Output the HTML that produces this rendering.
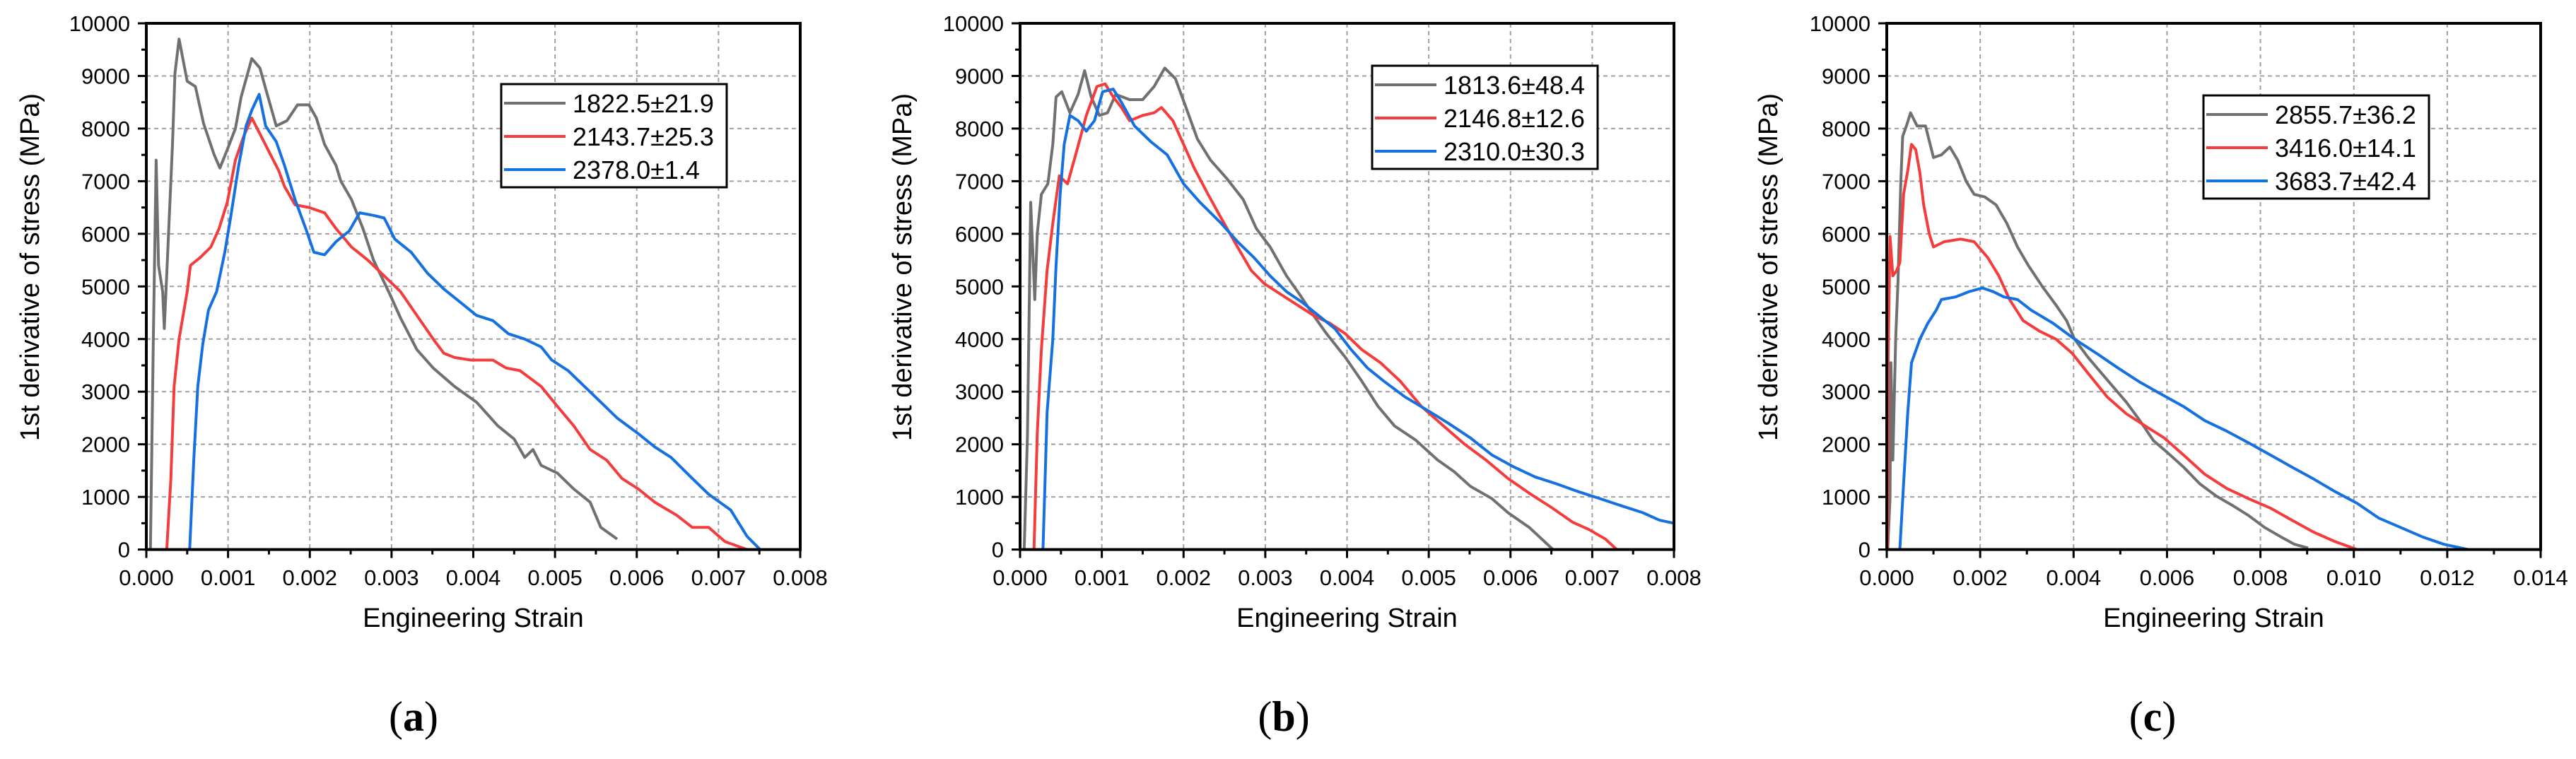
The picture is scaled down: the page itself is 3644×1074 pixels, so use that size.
<!DOCTYPE html>
<html><head><meta charset="utf-8">
<style>
html,body{margin:0;padding:0;background:#fff;}
svg{display:block;font-family:"Liberation Sans",Arial,sans-serif;}
</style></head>
<body>
<svg id="fig" width="3644" height="1074" viewBox="0 0 3644 1074" xmlns="http://www.w3.org/2000/svg"></svg>
<script>
// ---- data (strain in units of 1e-3, derivative in MPa) ----
const yTicks = [0,1000,2000,3000,4000,5000,6000,7000,8000,9000,10000];
const xTicksAB = ["0.000","0.001","0.002","0.003","0.004","0.005","0.006","0.007","0.008"];
const xTicksC = ["0.000","0.002","0.004","0.006","0.008","0.010","0.012","0.014"];
const legendA = ["1822.5±21.9","2143.7±25.3","2378.0±1.4"];
const legendB = ["1813.6±48.4","2146.8±12.6","2310.0±30.3"];
const legendC = ["2855.7±36.2","3416.0±14.1","3683.7±42.4"];

const aGrayX = [0.05,0.086,0.12,0.15,0.2,0.22,0.26,0.32,0.35,0.4,0.5,0.6,0.7,0.83,0.9,0.99,1.09,1.16,1.29,1.39,1.47,1.59,1.72,1.85,1.99,2.08,2.18,2.32,2.38,2.51,2.65,2.78,2.98,3.11,3.31,3.51,3.77,4.04,4.3,4.5,4.63,4.73,4.83,5.03,5.23,5.43,5.56,5.76];
const aGrayY = [0,4000,7400,5400,4900,4200,5600,7700,9050,9700,8900,8800,8100,7500,7250,7600,8000,8600,9330,9150,8700,8050,8150,8450,8450,8200,7700,7300,7000,6650,6100,5500,4850,4400,3800,3450,3100,2800,2350,2100,1750,1900,1600,1450,1150,900,420,200];
const aRedX = [0.25,0.3,0.34,0.4,0.5,0.54,0.66,0.79,0.89,0.99,1.09,1.19,1.29,1.39,1.52,1.62,1.69,1.82,1.99,2.18,2.32,2.51,2.71,2.91,3.11,3.31,3.51,3.64,3.77,3.97,4.24,4.4,4.57,4.83,5.03,5.23,5.43,5.63,5.82,6.02,6.22,6.49,6.68,6.88,7.08,7.35];
const aRedY = [0,1350,3100,4000,4900,5400,5550,5750,6100,6600,7400,7850,8200,7900,7500,7200,6900,6550,6500,6400,6100,5750,5500,5200,4900,4450,4000,3730,3650,3600,3600,3450,3400,3100,2720,2350,1900,1700,1350,1150,900,650,420,420,150,0];
const aBlueX = [0.53,0.58,0.63,0.69,0.76,0.86,0.96,1.03,1.13,1.22,1.29,1.38,1.46,1.59,1.69,1.82,1.95,2.05,2.18,2.32,2.48,2.61,2.78,2.91,3.04,3.24,3.44,3.64,3.84,4.04,4.24,4.43,4.63,4.83,4.96,5.16,5.36,5.56,5.76,6.02,6.22,6.42,6.68,6.88,7.15,7.35,7.51];
const aBlueY = [0,1700,3100,3900,4550,4900,5650,6300,7300,8050,8350,8650,8050,7750,7300,6650,6100,5650,5600,5850,6050,6400,6350,6300,5900,5650,5250,4950,4700,4450,4350,4100,4000,3850,3600,3400,3100,2800,2500,2200,1950,1750,1350,1050,750,250,0];

const bGrayX = [0.05,0.09,0.13,0.18,0.21,0.26,0.34,0.4,0.44,0.51,0.61,0.71,0.79,0.87,0.97,1.07,1.17,1.34,1.5,1.64,1.77,1.9,2.03,2.17,2.33,2.53,2.73,2.89,3.06,3.26,3.42,3.59,3.75,3.98,4.18,4.38,4.58,4.84,5.11,5.31,5.51,5.77,5.97,6.23,6.52];
const bGrayY = [0,2150,6600,4750,6000,6750,6950,7700,8600,8700,8300,8650,9100,8600,8250,8300,8650,8550,8550,8800,9150,8950,8400,7800,7400,7050,6650,6100,5750,5200,4850,4450,4100,3650,3200,2720,2350,2080,1700,1480,1200,970,700,420,0];
const bRedX = [0.17,0.21,0.26,0.33,0.4,0.48,0.58,0.68,0.81,0.94,1.04,1.14,1.24,1.34,1.5,1.64,1.73,1.87,2.0,2.13,2.3,2.46,2.66,2.83,2.99,3.19,3.39,3.59,3.79,3.98,4.18,4.41,4.65,4.91,5.18,5.44,5.7,5.97,6.23,6.5,6.76,6.96,7.16,7.3];
const bRedY = [0,2200,3800,5300,6200,7100,6950,7500,8250,8800,8850,8600,8400,8150,8250,8300,8400,8150,7700,7250,6750,6300,5750,5300,5050,4850,4650,4450,4300,4100,3800,3550,3200,2720,2350,2000,1700,1350,1070,800,520,380,200,0];
const bBlueX = [0.28,0.33,0.4,0.44,0.49,0.54,0.61,0.71,0.81,0.91,1.01,1.14,1.24,1.4,1.6,1.8,2.0,2.2,2.46,2.66,2.86,3.06,3.26,3.45,3.65,3.85,4.05,4.25,4.45,4.71,4.98,5.24,5.51,5.77,6.04,6.3,6.56,6.83,7.09,7.36,7.62,7.82,8.0];
const bBlueY = [0,2600,4000,5400,6750,7700,8250,8150,7950,8150,8700,8750,8500,8050,7750,7500,6950,6600,6200,5850,5550,5200,4900,4700,4450,4200,3800,3450,3200,2900,2650,2400,2120,1800,1570,1380,1250,1100,970,830,700,560,500];

const cGrayX = [0.02,0.07,0.09,0.13,0.19,0.24,0.3,0.34,0.42,0.51,0.65,0.83,1.0,1.17,1.35,1.52,1.7,1.87,2.1,2.34,2.57,2.8,3.03,3.33,3.62,3.85,4.02,4.31,4.6,4.84,5.13,5.42,5.71,6.0,6.35,6.7,7.05,7.4,7.74,8.09,8.44,8.73,9.02];
const cGrayY = [0,970,3550,1700,4000,5100,6950,7850,8050,8300,8050,8050,7450,7500,7650,7400,7000,6750,6700,6550,6200,5750,5400,5000,4650,4350,4000,3650,3350,3100,2800,2450,2070,1850,1570,1250,1020,840,650,420,240,100,30];
const cRedX = [0.02,0.03,0.07,0.13,0.21,0.28,0.36,0.45,0.53,0.62,0.71,0.79,0.91,1.0,1.23,1.58,1.87,2.16,2.4,2.63,2.92,3.27,3.62,3.97,4.31,4.72,5.13,5.53,5.94,6.35,6.81,7.28,7.74,8.21,8.67,9.14,9.6,10.07];
const cRedY = [0,3650,5950,5200,5300,5450,6750,7200,7700,7600,7150,6550,6000,5750,5850,5900,5850,5550,5200,4750,4350,4150,4000,3730,3350,2900,2580,2350,2120,1800,1430,1160,970,790,560,330,150,0];
const cBlueX = [0.28,0.36,0.45,0.53,0.71,0.88,1.06,1.17,1.47,1.76,2.05,2.28,2.51,2.8,3.09,3.56,4.02,4.49,4.95,5.42,5.88,6.35,6.81,7.28,7.74,8.21,8.67,9.14,9.6,10.07,10.53,11.0,11.47,11.93,12.45];
const cBlueY = [0,1250,2600,3550,4000,4300,4550,4750,4800,4900,4970,4900,4800,4750,4550,4300,4000,3730,3450,3180,2950,2720,2450,2250,2030,1800,1570,1340,1100,880,600,420,240,100,0];

const COLORS = {gray:"#707070", red:"#f53c3c", blue:"#1570e0"};
const NS = "http://www.w3.org/2000/svg";
const svg = document.getElementById("fig");
function mk(tag, attrs, parent){ const e=document.createElementNS(NS,tag); for(const k in attrs) e.setAttribute(k,attrs[k]); (parent||svg).appendChild(e); return e; }

function panel(cfg){
  const g = mk("g",{});
  
  
  const L=cfg.left, R=cfg.left+925, T=33, B=777.6;
  const sx = v => L + (v/cfg.xmax)*(R-L);       // v in 1e-3 units
  const sy = v => B - (v/10000)*(B-T);
  // grid
  const grid = mk("g",{stroke:"#a0a0a0","stroke-width":2,"stroke-dasharray":"6,5",fill:"none"},g);
  
  
  yTicks.forEach(t=>{ if(t>0&&t<10000) mk("line",{x1:L,x2:R,y1:sy(t),y2:sy(t)},grid); });
  const nx = cfg.xLabels.length;
  for(let i=1;i<nx-1;i++){ const xv=i*cfg.xstep; mk("line",{x1:sx(xv),x2:sx(xv),y1:T,y2:B},grid); }
  // series
  cfg.series.forEach((s,si)=>{
    let d="";
    s.x.forEach((xv,i)=>{ d += (i?"L":"M")+sx(xv).toFixed(1)+","+sy(s.y[i]).toFixed(1); });
    const p = mk("path",{d:d,fill:"none",stroke:s.c,"stroke-width":4,"stroke-linejoin":"round"},g);
    
    
  });
  // frame
  const fr = mk("rect",{x:L,y:T,width:R-L,height:B-T,fill:"none",stroke:"#000","stroke-width":4},g);
  
  
  // y ticks
  const yax = mk("g",{},g);
  
  
  for(let v=0; v<=10000; v+=500){
    const major = v%1000===0;
    mk("line",{x1:L-(major?12:7),x2:L,y1:sy(v),y2:sy(v),stroke:"#000","stroke-width":3},yax);
  }
  yTicks.forEach(t=>{
    const tx = mk("text",{x:L-23,y:sy(t)+11,"text-anchor":"end","font-size":31},yax);
    tx.textContent = t;
    
    
  });
  // x ticks
  const xax = mk("g",{},g);
  
  
  const nMinor = (nx-1)*2;
  for(let i=0;i<=nMinor;i++){
    const xv=i*cfg.xstep/2, major=i%2===0;
    mk("line",{x1:sx(xv),x2:sx(xv),y1:B,y2:B+(major?12:7),stroke:"#000","stroke-width":3},xax);
  }
  cfg.xLabels.forEach((lab,i)=>{
    const tx = mk("text",{x:sx(i*cfg.xstep),y:828,"text-anchor":"middle","font-size":31},xax);
    tx.textContent = lab;
    
    
  });
  // titles
  const xt = mk("text",{x:(L+R)/2,y:887,"text-anchor":"middle","font-size":38},g);
  xt.textContent = "Engineering Strain";
  
  
  const yt = mk("text",{x:0,y:0,"text-anchor":"middle","font-size":38,transform:"translate("+(cfg.ytx+13)+",378) rotate(-90)"},g);
  yt.textContent = "1st derivative of stress (MPa)";
  
  
  // legend
  const lg = mk("g",{},g);
  
  
  mk("rect",{x:cfg.lx,y:cfg.ly,width:319,height:146,fill:"#fff",stroke:"#000","stroke-width":3},lg);
  cfg.series.forEach((s,i)=>{
    const yy = cfg.ly+27+i*47;
    const e = mk("g",{},lg);
    
    
    mk("line",{x1:cfg.lx+4,x2:cfg.lx+91,y1:yy,y2:yy,stroke:s.c,"stroke-width":4},e);
    const tx = mk("text",{x:cfg.lx+101,y:yy+13,"font-size":36},e);
    tx.textContent = cfg.legend[i];
  });
  // panel label
  const pl = mk("text",{x:cfg.plx,y:1034,"text-anchor":"middle","font-size":60,"font-family":"'Liberation Serif',serif"},g);
  pl.innerHTML = "(<tspan font-weight='bold'>"+cfg.letter+"</tspan>)";
  
  
}

panel({name:"panel-a",left:207,xmax:8,xstep:1,xLabels:xTicksAB,ytx:42,lx:709,ly:119,legend:legendA,plx:585,letter:"a",
  series:[{key:"gray",x:aGrayX,y:aGrayY,c:COLORS.gray},{key:"red",x:aRedX,y:aRedY,c:COLORS.red},{key:"blue",x:aBlueX,y:aBlueY,c:COLORS.blue}]});
panel({name:"panel-b",left:1443,xmax:8,xstep:1,xLabels:xTicksAB,ytx:1276,lx:1941,ly:93,legend:legendB,plx:1816,letter:"b",
  series:[{key:"gray",x:bGrayX,y:bGrayY,c:COLORS.gray},{key:"red",x:bRedX,y:bRedY,c:COLORS.red},{key:"blue",x:bBlueX,y:bBlueY,c:COLORS.blue}]});
panel({name:"panel-c",left:2669,xmax:14,xstep:2,xLabels:xTicksC,ytx:2501,lx:3117,ly:135,legend:legendC,plx:3045,letter:"c",
  series:[{key:"gray",x:cGrayX,y:cGrayY,c:COLORS.gray},{key:"red",x:cRedX,y:cRedY,c:COLORS.red},{key:"blue",x:cBlueX,y:cBlueY,c:COLORS.blue}]});
</script>
</body></html>
